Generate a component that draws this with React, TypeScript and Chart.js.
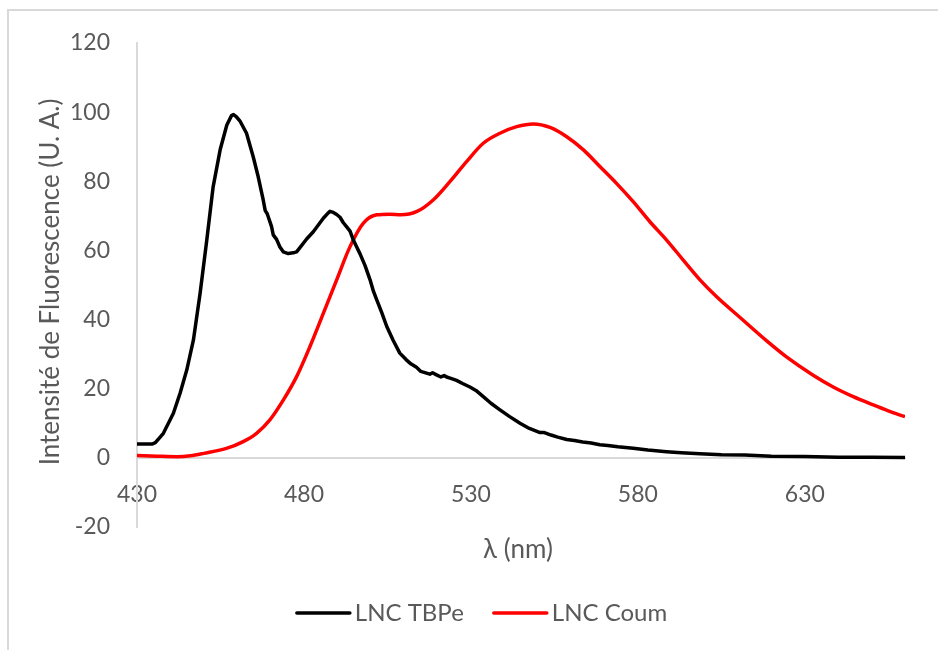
import React, { useEffect, useRef } from 'react';
import { Chart, registerables } from 'chart.js';

Chart.register(...registerables);

const seriesLabels = ['LNC TBPe', 'LNC Coum'];
const seriesColors = ['#000000', '#ff0000'];
const xTitle = 'λ (nm)';
const yTitle = 'Intensité de Fluorescence (U. A.)';
const xTicks = [430, 480, 530, 580, 630];
const yTicks = [-20, 0, 20, 40, 60, 80, 100, 120];

const tbpeWavelength = [
  430, 434.5, 435.5, 437.9, 440.9, 442.9, 444.9, 446.9, 448.9, 450.9, 452.8, 454.9, 456.9, 458.3, 458.9,
  459.8, 460.8, 462.8, 464.8, 466.3, 467.8, 468.4, 469, 470.3, 470.8, 471.8, 472.8, 473.8, 475.3, 476.8,
  477.8, 478.8, 480.8, 482.8, 483.8, 485.8, 487.2, 487.8, 488.8, 489.8, 490.8, 491.8, 492.8, 493.8, 494.8,
  495.8, 496.8, 498.3, 499.8, 500.8, 501.8, 503.3, 504.8, 506.7, 508.7, 510.5, 512, 513.7, 515, 516.7,
  517.7, 518.5, 519.7, 521, 522, 522.7, 524, 525.7, 527.5, 529.7, 531.5, 533.7, 536, 538.7, 541.5, 544.7,
  547.5, 550.7, 552, 554, 556, 558.7, 561, 563.5, 566, 568.6, 571, 574, 578.6, 583, 588.6, 593, 598.6,
  605, 612, 620, 630, 640, 650, 660,
];
const tbpeIntensity = [
  4, 4, 4.4, 7.1, 12.9, 18.7, 25.4, 34.1, 47.6, 63, 78.4, 89.1, 96.3, 99, 99.3,
  98.6, 97.5, 93.9, 87.1, 81.3, 74.6, 71.5, 70.6, 66.9, 64.5, 63.2, 61, 59.6, 59.1, 59.3,
  59.6, 60.8, 63.3, 65.4, 66.7, 69.3, 70.8, 71.3, 71, 70.4, 69.6, 68, 66.8, 65.6, 63,
  61, 59, 55.6, 51.5, 48.2, 45.7, 42, 38, 34, 30.3, 28.5, 27.2, 26.2, 25, 24.5,
  24.2, 24.6, 24, 23.4, 23.8, 23.4, 23, 22.4, 21.5, 20.5, 19.5, 17.7, 15.8, 13.9, 12, 10,
  8.5, 7.3, 7.3, 6.6, 6.0, 5.3, 5.0, 4.6, 4.3, 3.8, 3.6, 3.2, 2.8, 2.3, 1.8, 1.5, 1.2,
  0.9, 0.8, 0.5, 0.4, 0.2, 0.2, 0.1,
];

const coumWavelength = [
  430, 436, 442, 446, 450, 457, 461.8, 465.8, 469.8, 473.8, 477.8, 481.8, 485.8, 489.8, 493.8, 497.8,
  501.8, 505.7, 509, 513.7, 518.7, 523.7, 528.7, 533.7, 538.7, 543.7, 548.7, 553.7, 558.7, 563.7, 568.7,
  573.6, 578.6, 583.6, 588.6, 593.6, 598.6, 603.6, 610.6, 618.5, 624.5, 632.5, 638.5, 644.5, 650.5, 655, 660,
];
const coumIntensity = [
  0.7, 0.5, 0.35, 0.6, 1.3, 2.8, 4.7, 7.1, 11, 16.7, 23.5, 32.2, 41.8, 51.5, 61.1, 67.9,
  70.3, 70.5, 70.3, 71.2, 74.6, 79.9, 85.7, 91, 93.9, 95.8, 96.6, 95.6, 92.9, 89.1, 84.2,
  79.4, 74.1, 68.3, 63, 57.2, 51.5, 46.6, 40.6, 33.9, 29.2, 23.9, 20.5, 17.7, 15.3, 13.6, 11.9,
];

const FONT = 'Lato, "Open Sans", sans-serif';
const TEXT_COLOR = '#595959';
const AXIS_COLOR = '#d9d9d9';

const overlayPlugin = {
  id: 'overlay',
  beforeDraw(chart: any) {
    const ctx = chart.ctx;
    ctx.save();
    ctx.fillStyle = AXIS_COLOR;
    ctx.fillRect(7, 9, chart.width - 7, 2);
    ctx.fillRect(7, 9, 2, chart.height - 9);
    ctx.restore();
  },
  afterDraw(chart: any) {
    const ctx = chart.ctx;
    ctx.save();
    ctx.fillStyle = TEXT_COLOR;
    ctx.textBaseline = 'middle';
    ctx.textAlign = 'center';
    ctx.font = `26px ${FONT}`;
    // x title
    ctx.fillText(xTitle, 518, 550);
    // y title
    ctx.save();
    ctx.translate(51, 282);
    ctx.rotate(-Math.PI / 2);
    ctx.fillText(yTitle, 0, 0);
    ctx.restore();
    // legend
    ctx.font = `24px ${FONT}`;
    const lineLen = 53;
    const textGap = 5;
    const itemGap = 30;
    const widths = chart.data.datasets.map((d: any) => ctx.measureText(d.label).width);
    let total = 0;
    widths.forEach((w: number, i: number) => {
      total += lineLen + textGap + w + (i < widths.length - 1 ? itemGap : 0);
    });
    let x = 482 - total / 2;
    const y = 613;
    ctx.textAlign = 'left';
    chart.data.datasets.forEach((d: any, i: number) => {
      ctx.beginPath();
      ctx.strokeStyle = d.borderColor;
      ctx.lineWidth = 3.5;
      ctx.lineCap = 'round';
      ctx.moveTo(x, y);
      ctx.lineTo(x + lineLen, y);
      ctx.stroke();
      ctx.fillStyle = TEXT_COLOR;
      ctx.fillText(d.label, x + lineLen + textGap, y);
      x += lineLen + textGap + widths[i] + itemGap;
    });
    ctx.restore();
  },
};

export default function App() {
  const canvasRef = useRef<HTMLCanvasElement | null>(null);

  useEffect(() => {
    document.body.style.margin = '0';
    document.body.style.overflow = 'hidden';
    const canvas = canvasRef.current;
    if (!canvas) return;
    const tbpeData = tbpeWavelength.map((x, i) => ({ x, y: tbpeIntensity[i] }));
    const coumData = coumWavelength.map((x, i) => ({ x, y: coumIntensity[i] }));
    const tickFont = { family: FONT, size: 23 };
    const chart = new Chart(canvas, {
      type: 'line',
      data: {
        datasets: [
          {
            label: seriesLabels[0],
            data: tbpeData,
            borderColor: seriesColors[0],
            backgroundColor: seriesColors[0],
            borderWidth: 3.5,
            pointRadius: 0,
            tension: 0,
            borderJoinStyle: 'round',
          },
          {
            label: seriesLabels[1],
            data: coumData,
            borderColor: seriesColors[1],
            backgroundColor: seriesColors[1],
            borderWidth: 3.5,
            pointRadius: 0,
            cubicInterpolationMode: 'monotone',
          },
        ],
      },
      options: {
        animation: false,
        responsive: false,
        devicePixelRatio: 1,
        layout: { padding: { left: 0, top: 43, right: 33, bottom: 123 } },
        plugins: {
          legend: { display: false },
          tooltip: { enabled: false },
        },
        scales: {
          x: {
            type: 'linear',
            min: 430,
            max: 660,
            position: { y: 0 },
            grid: { display: false, drawTicks: false },
            border: { display: true, color: AXIS_COLOR, width: 2 },
            ticks: { padding: 23, font: tickFont, color: TEXT_COLOR, autoSkip: false, maxRotation: 0 },
            afterBuildTicks: (s: any) => {
              s.ticks = xTicks.map((v) => ({ value: v }));
            },
          },
          y: {
            type: 'linear',
            min: -20,
            max: 120,
            grid: { display: false, drawTicks: false },
            border: { display: true, color: AXIS_COLOR, width: 2 },
            ticks: { padding: 27, font: tickFont, color: TEXT_COLOR },
            afterBuildTicks: (s: any) => {
              s.ticks = yTicks.map((v) => ({ value: v }));
            },
            afterFit: (s: any) => {
              s.width = 137;
            },
          },
        },
      },
      plugins: [overlayPlugin],
    } as any);
    return () => chart.destroy();
  }, []);

  return (
    <div style={{ width: 938, height: 650, background: '#ffffff' }}>
      <canvas ref={canvasRef} width={938} height={650} style={{ display: 'block' }} />
    </div>
  );
}
